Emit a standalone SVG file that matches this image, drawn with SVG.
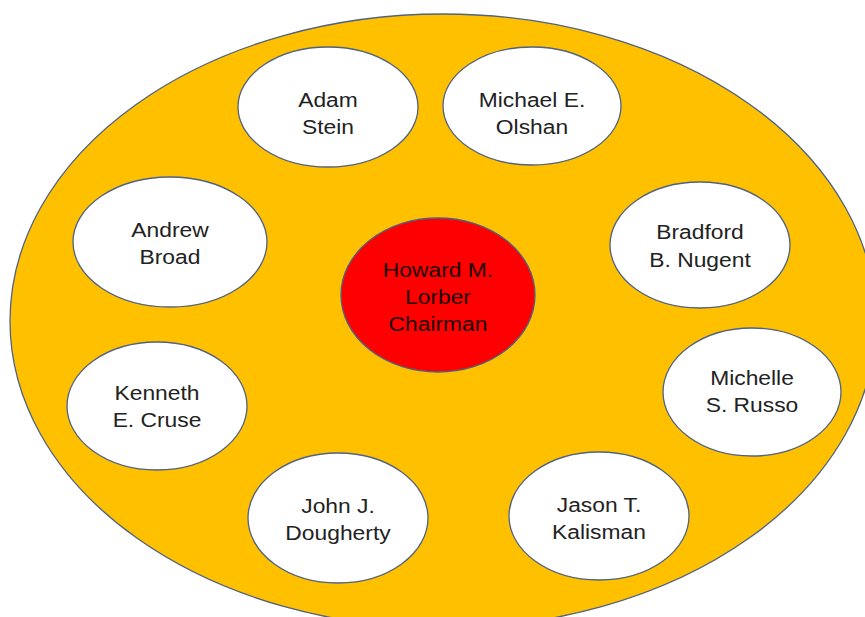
<svg xmlns="http://www.w3.org/2000/svg" width="865" height="617" viewBox="0 0 865 617">
<style>
.bg{fill:#FFC000;stroke:#4F6282;stroke-width:1.3}
.n{fill:#FFFFFF;stroke:#4F6282;stroke-width:1.3}
.c{fill:#FF0000;stroke:#4F6282;stroke-width:1.3}
text{font-family:"Liberation Sans",Arial,sans-serif;font-size:19.5px;fill:#222222;text-anchor:middle}
.ct{fill:#1a0000}
</style>
<rect width="865" height="617" fill="#FFFFFF"/>
<g id="board"><ellipse class="bg" cx="443" cy="321" rx="433" ry="307"/></g>
<g id="connectors"></g>
<g id="adam"><ellipse class="n" cx="328" cy="107" rx="90" ry="60"/><text transform="translate(328 0) scale(1.17 1)"><tspan x="0" y="107">Adam</tspan><tspan x="0" y="134">Stein</tspan></text></g>
<g id="michael"><ellipse class="n" cx="532" cy="106" rx="89" ry="59"/><text transform="translate(532 0) scale(1.17 1)"><tspan x="0" y="107">Michael E.</tspan><tspan x="0" y="134">Olshan</tspan></text></g>
<g id="andrew"><ellipse class="n" cx="170" cy="242" rx="97" ry="65"/><text transform="translate(170 0) scale(1.17 1)"><tspan x="0" y="237">Andrew</tspan><tspan x="0" y="264">Broad</tspan></text></g>
<g id="bradford"><ellipse class="n" cx="700" cy="245" rx="90" ry="63"/><text transform="translate(700 0) scale(1.17 1)"><tspan x="0" y="239">Bradford</tspan><tspan x="0" y="267">B. Nugent</tspan></text></g>
<g id="howard"><ellipse class="c" cx="438" cy="295" rx="97" ry="77"/><text class="ct" transform="translate(438 0) scale(1.17 1)"><tspan x="0" y="277">Howard M.</tspan><tspan x="0" y="304">Lorber</tspan><tspan x="0" y="331">Chairman</tspan></text></g>
<g id="kenneth"><ellipse class="n" cx="157" cy="406" rx="90" ry="64"/><text transform="translate(157 0) scale(1.17 1)"><tspan x="0" y="400">Kenneth</tspan><tspan x="0" y="427">E. Cruse</tspan></text></g>
<g id="michelle"><ellipse class="n" cx="752" cy="392" rx="89" ry="64"/><text transform="translate(752 0) scale(1.17 1)"><tspan x="0" y="385">Michelle</tspan><tspan x="0" y="412">S. Russo</tspan></text></g>
<g id="john"><ellipse class="n" cx="338" cy="518" rx="90" ry="65"/><text transform="translate(338 0) scale(1.17 1)"><tspan x="0" y="513">John J.</tspan><tspan x="0" y="540">Dougherty</tspan></text></g>
<g id="jason"><ellipse class="n" cx="599" cy="516" rx="90" ry="64"/><text transform="translate(599 0) scale(1.17 1)"><tspan x="0" y="512">Jason T.</tspan><tspan x="0" y="539">Kalisman</tspan></text></g>
</svg>
